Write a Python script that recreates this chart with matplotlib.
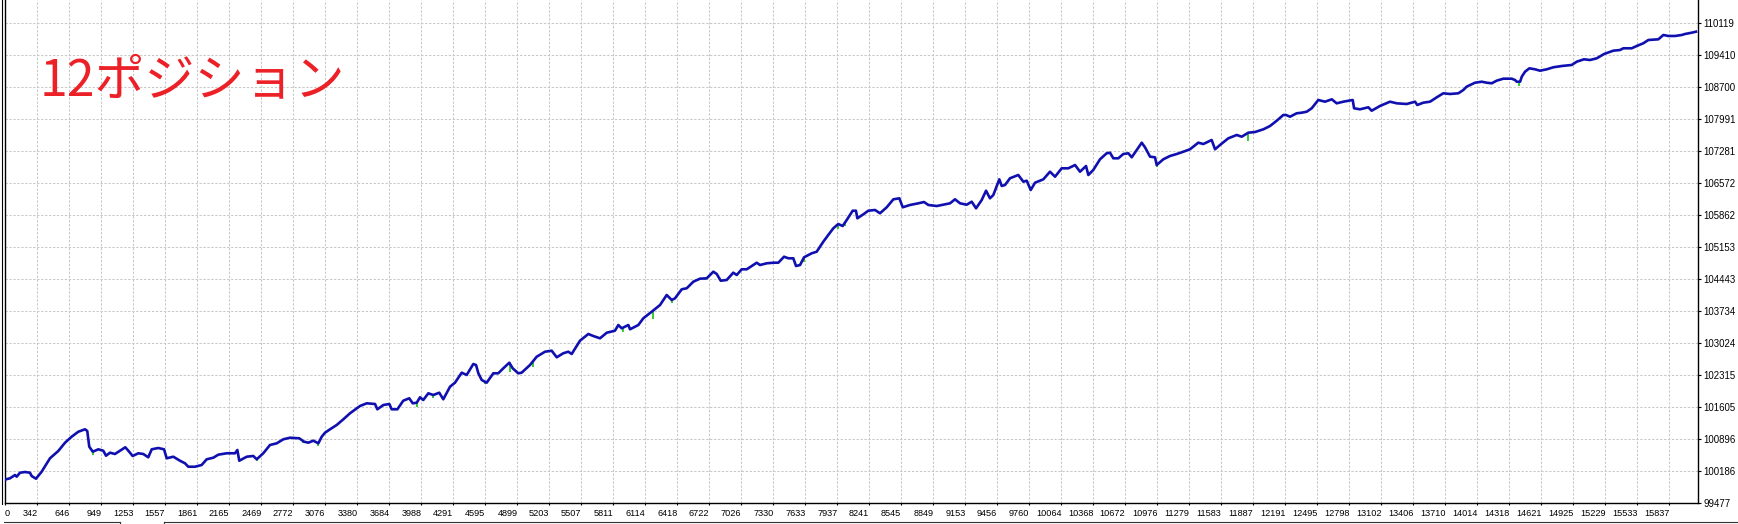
import numpy as np
import matplotlib
matplotlib.use("Agg")
import matplotlib.pyplot as plt
from matplotlib.lines import Line2D

# balance curve (trade no., balance)
trades = [35, 44, 82, 130, 146, 177, 225, 272, 288, 329, 383, 462, 541, 605, 668, 731, 795, 816,
          835, 868, 921, 968, 994, 1032, 1079, 1127, 1177, 1206, 1247, 1301, 1348, 1395, 1428,
          1490, 1545, 1570, 1633, 1696, 1744, 1775, 1839, 1902, 1950, 2013, 2060, 2140, 2219,
          2241, 2259, 2330, 2392, 2425, 2487, 2551, 2615, 2677, 2741, 2829, 2874, 2915, 2962,
          3010, 3042, 3073, 3121, 3184, 3247, 3310, 3374, 3405, 3469, 3548, 3570, 3627, 3684,
          3706, 3760, 3816, 3873, 3906, 3944, 3975, 4006, 4054, 4101, 4158, 4196, 4260, 4307,
          4371, 4418, 4481, 4507, 4529, 4561, 4608, 4671, 4718, 4766, 4823, 4855, 4908, 4940,
          5019, 5083, 5162, 5225, 5273, 5335, 5383, 5415, 5494, 5573, 5620, 5684, 5748, 5826,
          5858, 5890, 5953, 5969, 6048, 6095, 6175, 6254, 6317, 6365, 6396, 6460, 6507, 6570,
          6633, 6697, 6760, 6792, 6830, 6887, 6949, 6982, 7029, 7077, 7124, 7172, 7203, 7267,
          7329, 7377, 7431, 7472, 7519, 7545, 7583, 7621, 7694, 7741, 7804, 7851, 7899, 7946,
          7988, 8026, 8083, 8114, 8127, 8184, 8231, 8295, 8342, 8406, 8469, 8526, 8558, 8627,
          8706, 8760, 8801, 8881, 8943, 9007, 9054, 9102, 9165, 9213, 9254, 9308, 9349, 9386,
          9418, 9475, 9498, 9529, 9576, 9655, 9703, 9735, 9773, 9814, 9893, 9956, 10004, 10067,
          10130, 10194, 10241, 10298, 10320, 10367, 10431, 10494, 10526, 10557, 10605, 10652,
          10700, 10732, 10779, 10827, 10858, 10906, 10953, 10969, 11032, 11095, 11159, 11222,
          11285, 11364, 11412, 11491, 11523, 11570, 11649, 11729, 11776, 11839, 11903, 11982,
          12045, 12109, 12171, 12197, 12235, 12298, 12346, 12393, 12441, 12503, 12567, 12631,
          12678, 12741, 12830, 12843, 12899, 12978, 13010, 13089, 13184, 13248, 13343, 13422,
          13443, 13500, 13564, 13628, 13690, 13754, 13833, 13880, 13912, 13991, 14055, 14102,
          14150, 14197, 14260, 14340, 14371, 14387, 14419, 14435, 14466, 14507, 14561, 14608,
          14672, 14735, 14814, 14909, 14957, 15026, 15083, 15147, 15216, 15304, 15368, 15399,
          15479, 15526, 15589, 15637, 15732, 15779, 15827, 15890, 15954, 15985, 16049, 16089]
balance = [100000, 100009, 100031, 100104, 100067, 100155, 100171, 100155, 100082, 100022,
           100178, 100475, 100637, 100821, 100954, 101064, 101118, 101080, 100732, 100621,
           100674, 100643, 100532, 100599, 100570, 100643, 100719, 100643, 100526, 100586,
           100570, 100497, 100674, 100703, 100674, 100475, 100510, 100421, 100364, 100288,
           100288, 100326, 100453, 100488, 100555, 100586, 100586, 100659, 100421, 100510,
           100526, 100453, 100586, 100770, 100807, 100896, 100931, 100918, 100843, 100821,
           100865, 100807, 100954, 101042, 101118, 101213, 101339, 101472, 101583, 101634,
           101694, 101679, 101561, 101656, 101679, 101561, 101561, 101752, 101805, 101694,
           101707, 101827, 101767, 101916, 101878, 101929, 101783, 102062, 102151, 102373,
           102322, 102565, 102543, 102359, 102211, 102151, 102359, 102359, 102470, 102594,
           102470, 102359, 102373, 102543, 102727, 102838, 102860, 102714, 102803, 102838,
           102787, 103082, 103231, 103186, 103135, 103259, 103304, 103430, 103357, 103430,
           103335, 103430, 103579, 103725, 103874, 104095, 103984, 104022, 104222, 104244,
           104390, 104457, 104465, 104612, 104561, 104412, 104428, 104590, 104539, 104665,
           104665, 104738, 104811, 104760, 104798, 104811, 104811, 104944, 104909, 104909,
           104738, 104760, 104931, 105020, 105055, 105277, 105426, 105574, 105669, 105625,
           105758, 105964, 105964, 105796, 105884, 105964, 105980, 105907, 106040, 106217,
           106239, 106040, 106091, 106128, 106157, 106091, 106068, 106097, 106128, 106217,
           106128, 106097, 106164, 106017, 106202, 106408, 106239, 106312, 106660, 106512,
           106534, 106683, 106756, 106607, 106629, 106423, 106585, 106660, 106829, 106718,
           106904, 106904, 106977, 106829, 106955, 106756, 106867, 107104, 107237, 107250,
           107126, 107126, 107221, 107237, 107148, 107310, 107472, 107370, 107162, 107148,
           106977, 107104, 107177, 107221, 107272, 107326, 107472, 107443, 107532, 107326,
           107421, 107569, 107643, 107605, 107694, 107709, 107769, 107842, 107960, 108086,
           108086, 108048, 108124, 108137, 108159, 108235, 108419, 108381, 108434, 108345,
           108381, 108419, 108235, 108212, 108257, 108181, 108286, 108381, 108345, 108330,
           108381, 108308, 108359, 108381, 108478, 108567, 108552, 108567, 108640, 108714,
           108802, 108824, 108802, 108789, 108847, 108891, 108891, 108862, 108824, 108824,
           108935, 109046, 109121, 109099, 109068, 109099, 109144, 109172, 109195, 109268,
           109321, 109305, 109343, 109438, 109512, 109527, 109565, 109565, 109616, 109676,
           109749, 109764, 109860, 109838, 109838, 109860, 109882, 109911, 109933]

# equity dips (green) under the balance line
eq_trades = [873, 2425, 2864, 3010, 3944, 4101, 4307, 4592, 4830, 5051, 5905, 6184, 6365,
             6681, 7621, 7946, 8010, 10969, 11839, 14411]
eq_lows = [100537, 100415, 100821, 100758, 101619, 101805, 102111, 102122, 102388, 102499,
           103275, 103563, 103918, 104417, 104827, 105558, 105625, 106933, 107516, 108729]

x_labels = ["0", "342", "646", "949", "1253", "1557", "1861", "2165", "2469", "2772", "3076",
            "3380", "3684", "3988", "4291", "4595", "4899", "5203", "5507", "5811", "6114",
            "6418", "6722", "7026", "7330", "7633", "7937", "8241", "8545", "8849", "9153",
            "9456", "9760", "10064", "10368", "10672", "10976", "11279", "11583", "11887",
            "12191", "12495", "12798", "13102", "13406", "13710", "14014", "14318", "14621",
            "14925", "15229", "15533", "15837"]
y_labels = ["99477", "100186", "100896", "101605", "102315", "103024", "103734", "104443",
            "105153", "105862", "106572", "107281", "107991", "108700", "109410", "110119"]
title = "12ポジション"

W, H = 1738, 524
fig = plt.figure(figsize=(W / 100, H / 100), dpi=100)
fig.patch.set_facecolor("white")

left_px, right_px, bottom_px = 5, 1698.3, 503.3
ax = fig.add_axes([left_px / W, (H - bottom_px) / H, (right_px - left_px) / W, bottom_px / H])

x_min, x_max = 35, 16111
y_step = (110119 - 99477) / 15
ax.set_xlim(x_min, x_max)
ax.set_ylim(99477, 110119 + y_step * 23.3 / 32)

grid_kw = dict(color="#c8c8c8", lw=0.75, ls=(0, (2.2, 1.6)))
xt = [x_min] + [int(s) for s in x_labels[1:]]
yt = [99477 + i * y_step for i in range(len(y_labels))]
ax.set_xticks(xt)
ax.set_yticks(yt)
ax.grid(True, **grid_kw)
ax.set_axisbelow(True)

bal_i = np.interp(eq_trades, trades, balance)
ax.vlines(eq_trades, eq_lows, bal_i, color="#12c212", lw=1.2, zorder=2)
ax.plot(trades, balance, color="#1010b0", lw=1.9, zorder=3)

tick_font = ["Liberation Sans", "DejaVu Sans"]
ax.yaxis.tick_right()
ax.set_yticklabels(y_labels, fontsize=6.9, family=tick_font)
ax.set_xticklabels(x_labels, fontsize=6.6, family=tick_font)
for i, lab in enumerate(ax.get_xticklabels()):
    lab.set_ha("left" if i == 0 else "right")
ax.tick_params(axis="y", right=True, left=False, length=2.3, width=0.8, pad=1.5, colors="black")
ax.tick_params(axis="x", length=1.5, width=0.8, pad=2.5, colors="black")

for side in ["left", "bottom", "right"]:
    ax.spines[side].set_color("black")
    ax.spines[side].set_linewidth(1.0)
ax.spines["top"].set_visible(False)

# second frame line on the left, tab edges at the bottom
fig.add_artist(Line2D([1.5 / W, 1.5 / W], [(H - 504) / H, 1], color="black", lw=0.8))
fig.add_artist(Line2D([4 / W, 120 / W], [2.5 / H, 2.5 / H], color="#333333", lw=0.8))
fig.add_artist(Line2D([120 / W, 120 / W], [0, 2.5 / H], color="#333333", lw=0.8))
fig.add_artist(Line2D([164 / W, 1], [2.5 / H, 2.5 / H], color="#333333", lw=0.8))
fig.add_artist(Line2D([164 / W, 164 / W], [0, 2.5 / H], color="#333333", lw=0.8))

fig.text(40 / W, 1 - 95 / H, title, color="#ec2027", fontsize=36,
         family=["Noto Sans CJK JP", "DejaVu Sans"], va="baseline", ha="left")

fig.savefig("out.png", dpi=100, facecolor="white")
